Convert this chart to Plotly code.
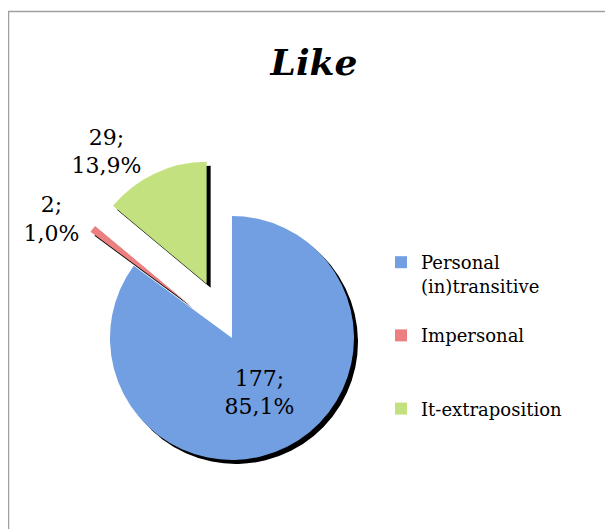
import plotly.graph_objects as go

labels = ["Personal<br>(in)transitive<br> ", "Impersonal<br> <br> ", "It-extraposition"]
values = [177, 2, 29]
colors = ["#729fe2", "#ec8080", "#c3e17f"]
pulls = [0, 0.45, 0.49]
text_positions = ["inside", "outside", "outside"]
text_template = "%{value};<br>%{percent:.1%}"

W, H = 613, 529
OFF = 8  # page body margin
cx, cy, r = 232 - OFF, 338 - OFF, 122
half = r * (1 + max(pulls))
dx0, dx1 = (cx - half) / W, (cx + half) / W
dy0, dy1 = 1 - (cy + half) / H, 1 - (cy - half) / H
sh = 4  # shadow offset px

fig = go.Figure()
fig.add_trace(go.Pie(
    labels=labels, values=values, sort=False, direction="clockwise", rotation=0,
    pull=pulls, marker=dict(colors=["#000000"] * 3, line=dict(width=0)),
    textinfo="none", hoverinfo="skip", showlegend=False,
    domain=dict(x=[dx0 + sh / W, dx1 + sh / W], y=[dy0 - sh / H, dy1 - sh / H]),
))
fig.add_trace(go.Pie(
    labels=labels, values=values, sort=False, direction="clockwise", rotation=0,
    pull=pulls, marker=dict(colors=colors, line=dict(width=0)),
    texttemplate=text_template, textposition=text_positions,
    insidetextorientation="horizontal", automargin=False,
    textfont=dict(family="DejaVu Serif", size=22, color="#000000"),
    domain=dict(x=[dx0, dx1], y=[dy0, dy1]),
))

fig.update_layout(
    width=W, height=H, margin=dict(l=0, r=0, t=0, b=0, autoexpand=False),
    paper_bgcolor="white", separators=", ",
    title=dict(text="<b><i>Like</i></b>", x=(314 - OFF) / W, xanchor="center", y=1 - (62 - OFF) / H,
               yanchor="middle", font=dict(family="DejaVu Serif", size=36, color="#000000")),
    legend=dict(x=(381 - OFF) / W, xanchor="left", y=1 - (244 - OFF) / H, yanchor="top", valign="top",
                font=dict(family="DejaVu Serif", size=18, color="#000000"), bgcolor="rgba(0,0,0,0)"),
    shapes=[dict(type="rect", xref="paper", yref="paper", x0=0.5 / W, x1=1.02, y0=-0.05, y1=1 - 3.5 / H,
                 line=dict(color="#a0a0a0", width=1.5), fillcolor="rgba(0,0,0,0)", layer="below")],
)
fig.write_html("out.html")
